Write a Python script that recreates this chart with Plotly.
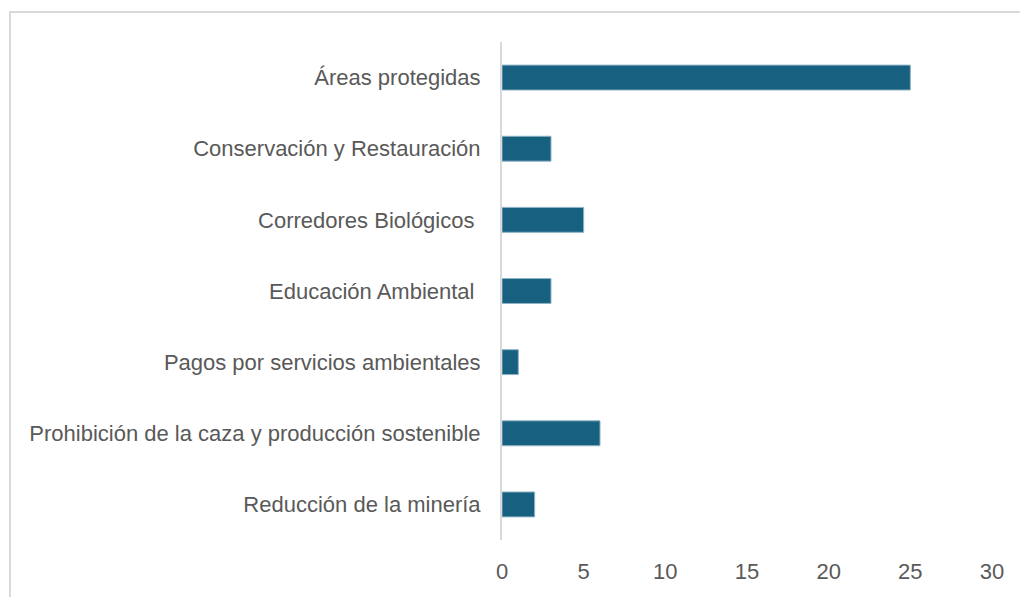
import plotly.graph_objects as go

categories = [
    "Áreas protegidas",
    "Conservación y Restauración",
    "Corredores Biológicos\u00a0",
    "Educación Ambiental\u00a0",
    "Pagos por servicios ambientales",
    "Prohibición de la caza y producción sostenible",
    "Reducción de la minería",
]
values = [25, 3, 5, 3, 1, 6, 2]
x_ticks = [0, 5, 10, 15, 20, 25, 30]

W, H = 1020, 597
L, R, T, B = 502, 28, 42, 57
pw, ph = W - L - R, H - T - B

fig = go.Figure(
    go.Bar(
        x=values,
        y=categories,
        orientation="h",
        marker=dict(color="#17607f", line=dict(color="#8fb3c6", width=1)),
        width=0.35,
    )
)

def px_to_paper_x(p):
    return (p - L) / pw

def px_to_paper_y(p):
    return 1 - (p - T) / ph

fig.add_shape(
    type="rect", xref="paper", yref="paper",
    x0=px_to_paper_x(10), x1=px_to_paper_x(1030),
    y0=px_to_paper_y(610), y1=px_to_paper_y(12),
    line=dict(color="#d9d9d9", width=2), fillcolor="rgba(0,0,0,0)", layer="below",
)

fig.update_layout(
    width=W, height=H,
    margin=dict(l=L, r=R, t=T, b=B, pad=0),
    paper_bgcolor="white", plot_bgcolor="white",
    font=dict(family="Liberation Sans, Arial, sans-serif", size=22, color="#595959"),
    showlegend=False,
    xaxis=dict(
        range=[0, 30], tickvals=x_ticks, showgrid=False, zeroline=False,
        showline=False, ticks="", ticklabelstandoff=16,
        tickfont=dict(size=22, color="#595959"),
    ),
    yaxis=dict(
        autorange="reversed", showgrid=False, zeroline=False,
        showline=True, linecolor="#d9d9d9", linewidth=2, ticks="",
        ticklabelstandoff=15, tickfont=dict(size=22, color="#595959"),
    ),
)

fig.write_html("out.html")
